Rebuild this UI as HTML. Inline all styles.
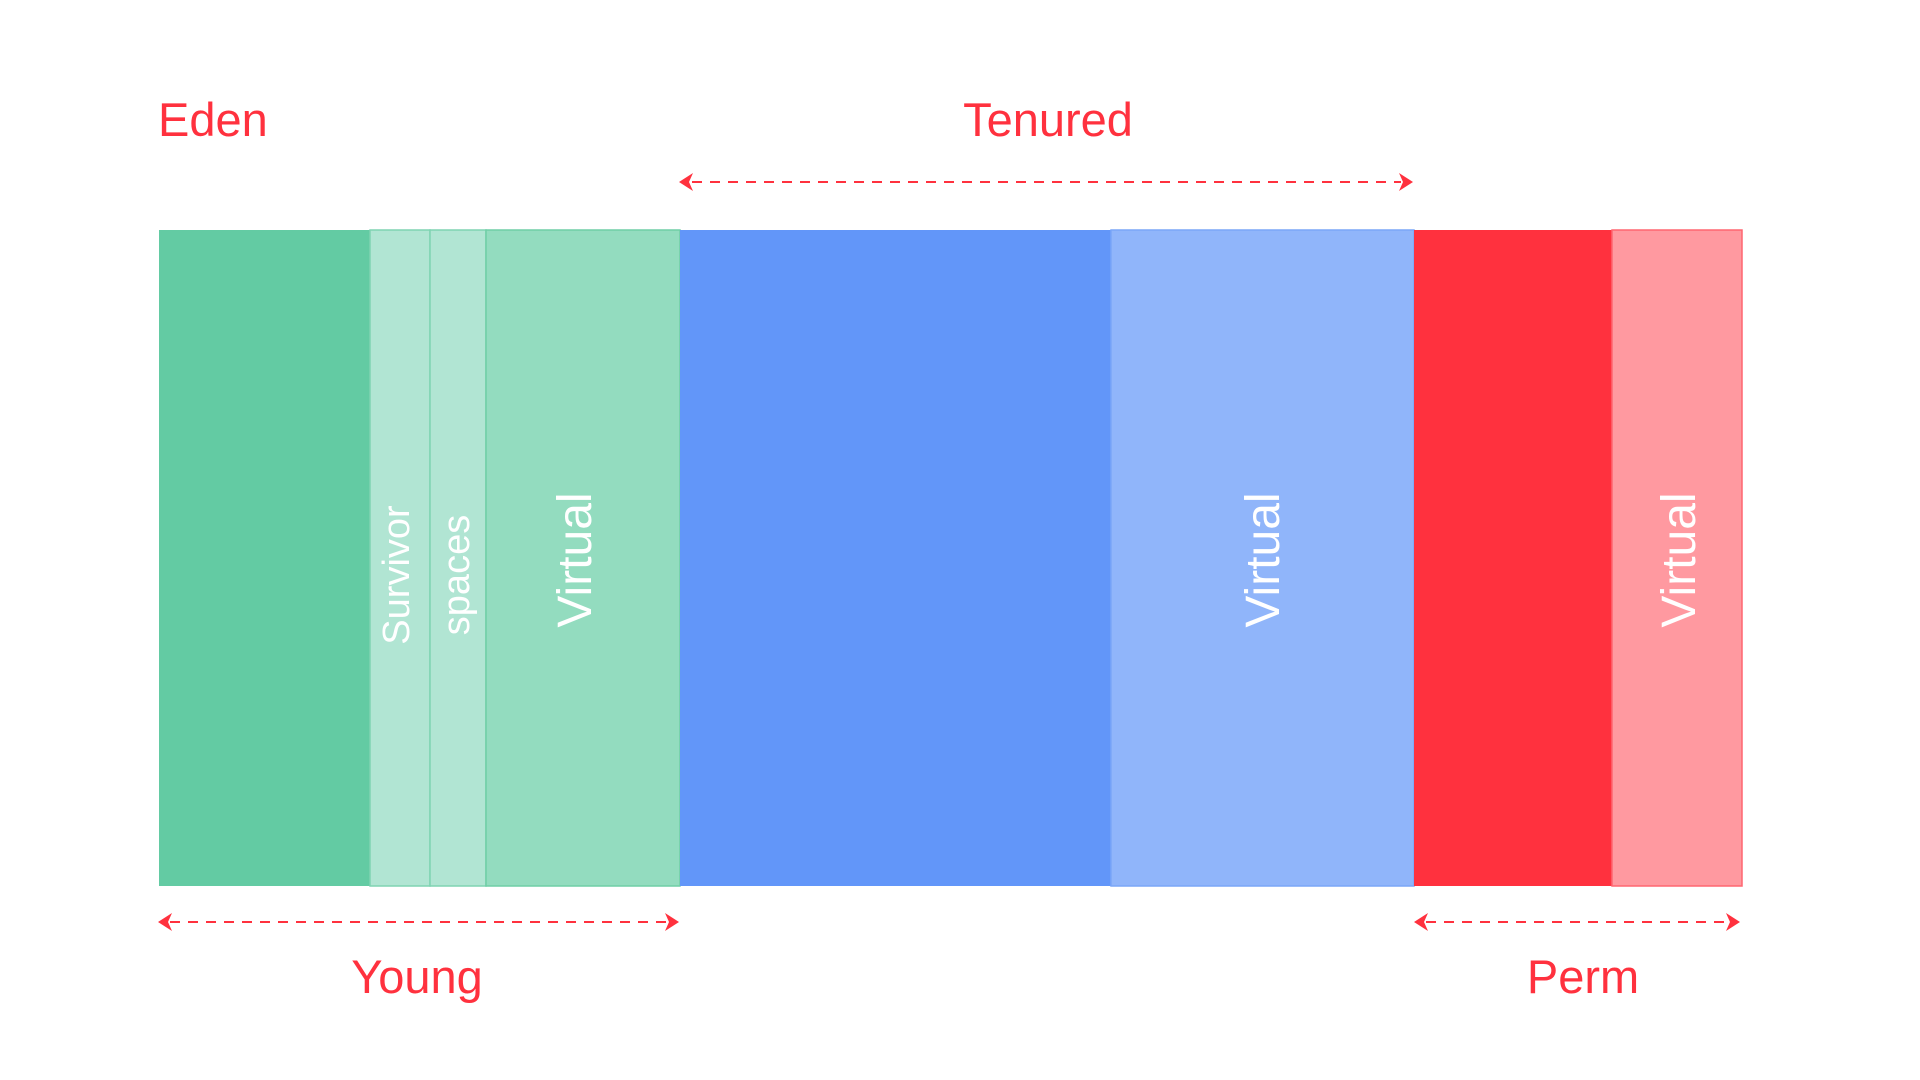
<!DOCTYPE html>
<html><head><meta charset="utf-8"><style>
body{margin:0;background:#fff;}
svg{display:block}
text{font-family:"Liberation Sans",sans-serif;}
</style></head><body>
<svg width="1920" height="1080" viewBox="0 0 1920 1080">
<rect x="0" y="0" width="1920" height="1080" fill="#fff"/>
<rect x="159" y="230" width="211" height="656" fill="#63cba3"/>
<rect x="370" y="230" width="60" height="656" fill="#b1e5d3" stroke="#7fd3b2" stroke-width="1.5"/>
<rect x="430" y="230" width="56" height="656" fill="#b1e5d3" stroke="#7fd3b2" stroke-width="1.5"/>
<rect x="486" y="230" width="194" height="656" fill="#93dcbf" stroke="#6fcea6" stroke-width="1.5"/>
<rect x="680" y="230" width="431" height="656" fill="#6296f9"/>
<rect x="1111" y="230" width="303" height="656" fill="#90b5fa" stroke="#7aa6f7" stroke-width="1.5"/>
<rect x="1414" y="230" width="198" height="656" fill="#ff313e"/>
<rect x="1612" y="230" width="130" height="656" fill="#ff99a0" stroke="#ff6670" stroke-width="1.5"/>
<g fill="#fff" text-anchor="middle">
<text transform="translate(409,575) rotate(-90)" font-size="38">Survivor</text>
<text transform="translate(469,575) rotate(-90)" font-size="38">spaces</text>
<text transform="translate(591,560) rotate(-90)" font-size="48">Virtual</text>
<text transform="translate(1279,560) rotate(-90)" font-size="48">Virtual</text>
<text transform="translate(1695,560) rotate(-90)" font-size="48">Virtual</text>
</g>
<g fill="#ff313e" font-size="47">
<text x="158" y="136">Eden</text>
<text x="1048" y="136" text-anchor="middle">Tenured</text>
<text x="417" y="993" text-anchor="middle">Young</text>
<text x="1583" y="993" text-anchor="middle">Perm</text>
</g>
<defs>
<path id="ah" d="M0,0 L-14,-9 L-10,0 L-14,9 Z" fill="#ff313e"/>
</defs>
<g stroke="#ff313e" stroke-width="2" stroke-dasharray="10,8">
<line x1="692" y1="182" x2="1401" y2="182"/>
<line x1="170" y1="922" x2="667" y2="922"/>
<line x1="1426" y1="922" x2="1727" y2="922"/>
</g>
<use href="#ah" transform="translate(679,182) rotate(180)"/>
<use href="#ah" transform="translate(1413,182)"/>
<use href="#ah" transform="translate(158,922) rotate(180)"/>
<use href="#ah" transform="translate(679,922)"/>
<use href="#ah" transform="translate(1414,922) rotate(180)"/>
<use href="#ah" transform="translate(1740,922)"/>
</svg>
</body></html>
